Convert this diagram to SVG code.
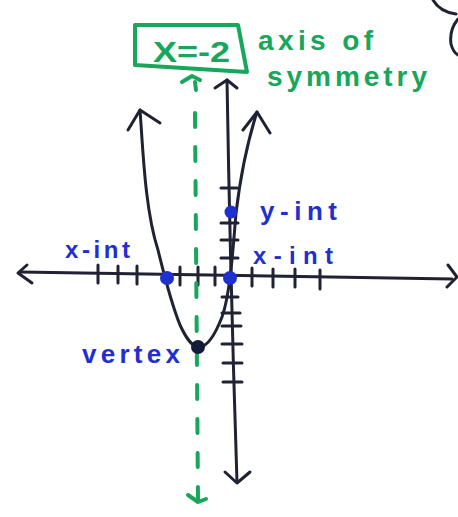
<svg xmlns="http://www.w3.org/2000/svg" width="458" height="517" viewBox="0 0 458 517">
<style>
.ink{fill:none;stroke:#1f2233;stroke-width:3;stroke-linecap:round;stroke-linejoin:round}
.grn{fill:none;stroke:#17a65a;stroke-width:4;stroke-linecap:round;stroke-linejoin:round}
.gt{fill:#17a65a;font-family:"Liberation Sans",Arial,sans-serif;font-weight:bold}
.bt{fill:#1f2fd0;font-family:"Liberation Sans",Arial,sans-serif;font-weight:bold}
.dot{fill:#1f2fd0}
</style>
<rect width="458" height="517" fill="#ffffff"/>
<g id="axes">
  <path class="ink" d="M20,272 L452,279"/>
  <path class="ink" d="M27,265 L18,273 L32,283"/>
  <path class="ink" d="M448,265 L457,277 L447,287"/>
  <path class="ink" d="M227,80 C229,200 231,300 237,482"/>
  <path class="ink" d="M215,88 L227,80 L237,88"/>
  <path class="ink" d="M225,472 L237,483 L250,472"/>
  <path class="ink" d="M98,265 V283 M118,266 V283 M137,266 V284 M180,267 V285 M198,267 V285 M215,267 V285 M252,268 V286 M273,269 V287 M295,269 V287 M320,270 V289"/>
  <path class="ink" d="M221,188 H237 M221,223 H238 M221,240 H238 M221,258 H238 M222,297 H238 M222,313 H240 M222,326 H241 M222,344 H242 M223,363 H242 M223,382 H242"/>
</g>
<g id="parabola">
  <path class="ink" d="M140,110 C143,150 145,210 158,250 C163,270 170,300 180,325 C187,340 193,348 200,347 C208,346 215,335 222,317 C230,295 233,250 236,213 C240,180 248,140 257,112"/>
  <path class="ink" d="M128,130 L140,110 L160,123"/>
  <path class="ink" d="M243,130 L257,112 L270,133"/>
</g>
<g id="axis-of-symmetry">
  <path class="grn" d="M195,82 L196,90"/>
  <path class="grn" d="M182,82 L192,76 L200,80"/>
  <path class="grn" d="M195,113 L198,500" stroke-dasharray="14 20"/>
  <path class="grn" d="M188,495 L198,502 L206,499"/>
  <path class="grn" d="M135,25 L238,25 L247,72 L135,65 Z"/>
  <text class="gt" x="153" y="62" font-size="30" textLength="77" lengthAdjust="spacingAndGlyphs">X=-2</text>
  <text class="gt" x="258" y="50" font-size="28" textLength="115" lengthAdjust="spacing">axis of</text>
  <text class="gt" x="267" y="86" font-size="28" textLength="160" lengthAdjust="spacing">symmetry</text>
</g>
<g id="points">
  <circle class="dot" cx="167" cy="278" r="7"/>
  <circle class="dot" cx="230" cy="278" r="7"/>
  <circle class="dot" cx="231" cy="212" r="6.5"/>
  <circle cx="198" cy="347" r="7" fill="#141a3a"/>
</g>
<g id="labels">
  <text class="bt" x="260" y="220" font-size="26" textLength="77" lengthAdjust="spacing">y-int</text>
  <text class="bt" x="65" y="258" font-size="24" textLength="65" lengthAdjust="spacing">x-int</text>
  <text class="bt" x="253" y="264" font-size="24" textLength="80" lengthAdjust="spacing">x-int</text>
  <text class="bt" x="82" y="363" font-size="26" textLength="98" lengthAdjust="spacing">vertex</text>
</g>
<g id="corner-scribble">
  <path class="ink" d="M433,0 Q440,12 456,14 M458,19 Q449,30 451,44 Q453,52 458,55"/>
</g>
</svg>
